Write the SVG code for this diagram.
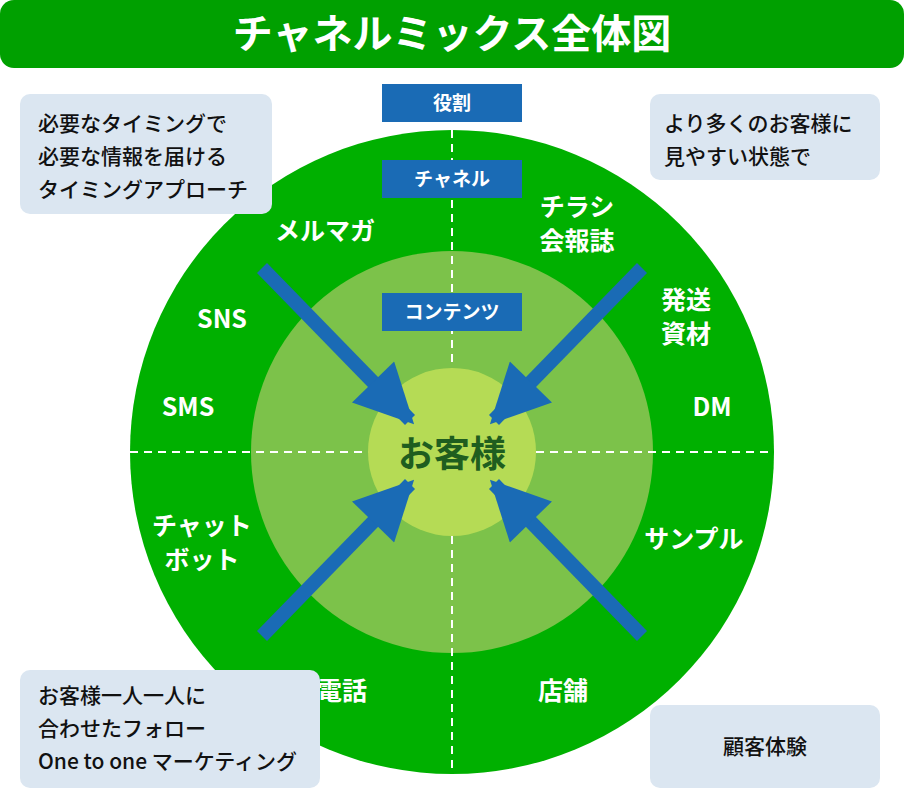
<svg xmlns="http://www.w3.org/2000/svg" width="904" height="800" viewBox="0 0 904 800">
<style>
text{font-family:"Noto Sans CJK JP","Noto Sans",sans-serif;font-weight:bold}
.w{fill:#fff;font-size:25px;text-anchor:middle}
.lb{fill:#fff;font-size:19px;text-anchor:middle}
.note{fill:#dbe6f1}
.nt{fill:#111;font-size:21px;font-weight:500}
.dash{stroke:#fff;stroke-width:2;stroke-dasharray:8,6;fill:none}
.arr{stroke:#1a6bb5;stroke-width:14;fill:none}
</style>
<defs><marker id="ah" viewBox="0 0 10 10" refX="9" refY="5" markerWidth="4.4" markerHeight="4.2" orient="auto" markerUnits="strokeWidth"><path d="M0,0L10,5L0,10z" fill="#1a6bb5"/></marker></defs>
<rect width="904" height="800" fill="#fff"/>
<g id="title"><rect x="0" y="0" width="904" height="68" rx="14" fill="#00a000"/><text x="452" y="48" fill="#fff" font-size="40" text-anchor="middle">チャネルミックス全体図</text></g>
<g id="circles">
<circle cx="452" cy="452" r="322" fill="#00b000"/>
<circle cx="452" cy="452" r="201" fill="#7cc24a"/>
<line class="dash" x1="452" y1="130" x2="452" y2="775"/>
<line class="dash" x1="130" y1="452" x2="774" y2="452"/>
<circle cx="452" cy="452" r="84" fill="#b5db55"/>
<text x="452" y="467" fill="#1f5e1f" font-size="36" text-anchor="middle">お客様</text>
</g>
<g id="labels">
<rect x="382" y="84" width="140" height="38" fill="#1a6bb5"/><text class="lb" x="452" y="110">役割</text>
<rect x="382" y="160" width="140" height="38" fill="#1a6bb5"/><text class="lb" x="452" y="186">チャネル</text>
<rect x="382" y="293" width="140" height="38" fill="#1a6bb5"/><text class="lb" x="452" y="319">コンテンツ</text>
</g>
<g id="channels">
<text class="w" x="325" y="240">メルマガ</text>
<text class="w" x="222" y="328">SNS</text>
<text class="w" x="188" y="416">SMS</text>
<text class="w" x="202" y="535">チャット</text><text class="w" x="202" y="569">ボット</text>
<text class="w" x="342" y="700">電話</text>
<text class="w" x="563" y="700">店舗</text>
<text class="w" x="694" y="548">サンプル</text>
<text class="w" x="712" y="416">DM</text>
<text class="w" x="686" y="309">発送</text><text class="w" x="686" y="343">資材</text>
<text class="w" x="577" y="216">チラシ</text><text class="w" x="577" y="250">会報誌</text>
</g>
<g id="connectors">
<line class="arr" x1="262" y1="268" x2="410" y2="420" marker-end="url(#ah)"/>
<line class="arr" x1="642" y1="268" x2="494" y2="420" marker-end="url(#ah)"/>
<line class="arr" x1="262" y1="636" x2="410" y2="484" marker-end="url(#ah)"/>
<line class="arr" x1="642" y1="636" x2="494" y2="484" marker-end="url(#ah)"/>
</g>
<g id="notes">
<rect class="note" x="20" y="94" width="252" height="120" rx="10"/>
<text class="nt" x="38" y="131">必要なタイミングで</text><text class="nt" x="38" y="164">必要な情報を届ける</text><text class="nt" x="38" y="197">タイミングアプローチ</text>
<rect class="note" x="650" y="94" width="230" height="86" rx="10"/>
<text class="nt" x="664" y="131">より多くのお客様に</text><text class="nt" x="664" y="164">見やすい状態で</text>
<rect class="note" x="20" y="670" width="300" height="118" rx="10"/>
<text class="nt" x="38" y="703">お客様一人一人に</text><text class="nt" x="38" y="736">合わせたフォロー</text><text class="nt" x="38" y="769">One to one マーケティング</text>
<rect class="note" x="650" y="705" width="230" height="83" rx="10"/>
<text class="nt" x="765" y="754" text-anchor="middle">顧客体験</text>
</g>
</svg>
